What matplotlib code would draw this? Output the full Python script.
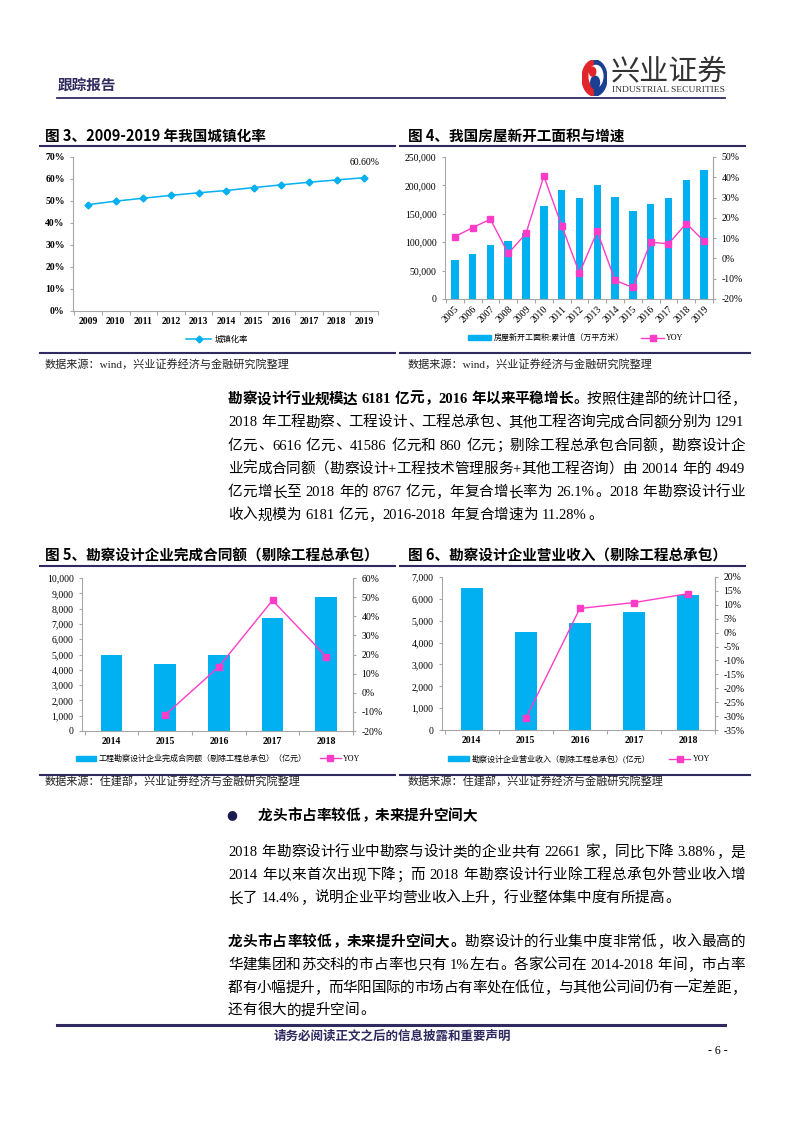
import numpy as np
import matplotlib
matplotlib.use('Agg')
import matplotlib.pyplot as plt
from matplotlib.lines import Line2D
from matplotlib.patches import Patch, Wedge, Ellipse, Circle
from matplotlib.ticker import FuncFormatter, FixedLocator
from matplotlib.font_manager import FontProperties

plt.rcParams['font.family'] = ['Liberation Serif', 'Noto Sans CJK SC', 'DejaVu Sans']

# Données des graphiques
annees_urb = ['2009', '2010', '2011', '2012', '2013', '2014', '2015', '2016', '2017', '2018', '2019']
taux_urb = [48.34, 49.95, 51.27, 52.57, 53.73, 54.77, 56.10, 57.35, 58.52, 59.58, 60.60]

annees_fw = ['2005', '2006', '2007', '2008', '2009', '2010', '2011', '2012', '2013', '2014',
             '2015', '2016', '2017', '2018', '2019']
surface_fw = [68064, 79253, 95402, 102553, 116422, 163647, 191237, 177334, 201208, 179592,
              154454, 166928, 178654, 209342, 227154]
yoy_fw = [10.7, 15.2, 19.3, 2.5, 12.3, 40.6, 16.2, -7.2, 13.3, -10.8, -14.3, 8.0, 7.2, 17.2, 8.5]

annees_kc = ['2014', '2015', '2016', '2017', '2018']
contrat_kc = [4949, 4376, 4975, 7374, 8767]
yoy_contrat = [np.nan, -11.6, 13.6, 48.3, 18.9]
revenu_kc = [6500, 4500, 4890, 5420, 6181]
yoy_revenu = [np.nan, -30.8, 8.7, 10.8, 14.0]

# Textes du corps
para1 = [
    [("勘察设计行业规模达 6181 亿元，2016 年以来平稳增长。", True), ("按照住建部的统计口径，", False)],
    [("2018 年工程勘察、工程设计、工程总承包、其他工程咨询完成合同额分别为 1291", False)],
    [("亿元、6616 亿元、41586 亿元和 860 亿元；剔除工程总承包合同额，勘察设计企", False)],
    [("业完成合同额（勘察设计+工程技术管理服务+其他工程咨询）由 20014 年的 4949", False)],
    [("亿元增长至 2018 年的 8767 亿元，年复合增长率为 26.1%。2018 年勘察设计行业", False)],
    [("收入规模为 6181 亿元，2016-2018 年复合增速为 11.28%。", False)],
]
para2 = [
    [("2018 年勘察设计行业中勘察与设计类的企业共有 22661 家，同比下降 3.88%，是", False)],
    [("2014 年以来首次出现下降；而 2018 年勘察设计行业除工程总承包外营业收入增", False)],
    [("长了 14.4%，说明企业平均营业收入上升，行业整体集中度有所提高。", False)],
]
para3 = [
    [("龙头市占率较低，未来提升空间大。", True), ("勘察设计的行业集中度非常低，收入最高的", False)],
    [("华建集团和苏交科的市占率也只有 1%左右。各家公司在 2014-2018 年间，市占率", False)],
    [("都有小幅提升，而华阳国际的市场占有率处在低位，与其他公司间仍有一定差距，", False)],
    [("还有很大的提升空间。", False)],
]

W, H = 793, 1122
BLEU = '#00B0F0'
ROSE = '#FF3CC8'
MARINE = '#2F2B61'
GRIS = '#A6A6A6'


def fx(x):
    return x / W


def fy(y):
    return 1 - y / H


fig = plt.figure(figsize=(W / 100, H / 100), dpi=100)
renderer = fig.canvas.get_renderer()

serif7 = FontProperties(family=['Liberation Serif'], size=7)


def hline(x0, x1, y, lw=1.5, color=MARINE):
    fig.add_artist(Line2D([fx(x0), fx(x1)], [fy(y), fy(y)], transform=fig.transFigure,
                          color=color, lw=lw))


def est_cjk(ch):
    return len(ch) == 1 and ord(ch) >= 0x2E80


def ligne(y, segments, x0=228, x1=745, justifier=True, size=10.5):
    em = size * 100 / 72
    jetons = []
    for texte, gras in segments:
        buf = ''
        for ch in texte:
            if ch == ' ' or est_cjk(ch):
                if buf:
                    jetons.append((buf, gras))
                    buf = ''
                jetons.append((ch, gras))
            else:
                buf += ch
        if buf:
            jetons.append((buf, gras))
    largeurs = []
    objets = []
    for tok, gras in jetons:
        if tok == ' ':
            largeurs.append(0.28 * em)
            objets.append(None)
        elif est_cjk(tok):
            largeurs.append(em)
            objets.append(None)
        else:
            t = fig.text(0, 0, tok, fontsize=size, fontweight='bold' if gras else 'normal',
                         family=['Liberation Serif', 'Noto Sans CJK SC'])
            largeurs.append(t.get_window_extent(renderer).width + 0.5)
            objets.append(t)
    naturel = sum(largeurs)
    extra = 0
    if justifier and len(jetons) > 1:
        extra = (x1 - x0 - naturel) / (len(jetons) - 1)
    base = y + 0.36 * em
    x = x0
    for (tok, gras), w, obj in zip(jetons, largeurs, objets):
        poids = 'bold' if gras else 'normal'
        if obj is not None:
            obj.set_position((fx(x), fy(base)))
            obj.set_va('baseline')
        elif tok != ' ':
            if tok in '，。、；：':
                fig.text(fx(x + 0.08 * em), fy(base), tok, fontsize=size, fontweight=poids,
                         family=['Noto Sans CJK SC'], ha='left', va='baseline')
            else:
                fig.text(fx(x + w / 2), fy(base), tok, fontsize=size, fontweight=poids,
                         family=['Noto Sans CJK SC'], ha='center', va='baseline')
        x += w + extra


# En-tête
fig.text(fx(58), fy(85), '跟踪报告', fontsize=10.5, fontweight='bold', color=MARINE,
         family=['Noto Sans CJK SC'], va='center')
hline(57, 725, 98, lw=1.3)
logo = fig.add_axes([fx(582), fy(96), fx(25), 36 / H])
logo.set_xlim(-1, 1)
logo.set_ylim(-1, 1)
logo.axis('off')
logo.add_patch(Wedge((0, 0), 1, 90, 270, color='#E0262B'))
logo.add_patch(Wedge((0, 0), 1, -90, 90, color='#1B3F93'))
logo.add_patch(Ellipse((0.12, 0.1), 1.1, 1.2, color='white'))
logo.add_patch(Circle((0.05, -0.25), 0.35, color='#1B3F93'))
logo.add_patch(Circle((-0.15, 0.35), 0.25, color='#E0262B'))
fig.text(fx(611), fy(71), '兴业证券', fontsize=21, color='#333333',
         family=['Noto Sans CJK SC'], va='center', ha='left')
fig.text(fx(612), fy(90), 'INDUSTRIAL SECURITIES', fontsize=6.8, color='#333333',
         family=['Liberation Serif'], va='center', ha='left')

# Titres des graphiques
titres = [(45, 136, '图 3、2009-2019 年我国城镇化率'), (408, 136, '图 4、我国房屋新开工面积与增速'),
          (45, 556, '图 5、勘察设计企业完成合同额（剔除工程总承包）'),
          (408, 556, '图 6、勘察设计企业营业收入（剔除工程总承包）')]
for x, y, t in titres:
    fig.text(fx(x), fy(y), t, fontsize=10.5, fontweight='bold', family=['Noto Sans CJK SC'],
             va='center')
hline(40, 395, 146)
hline(400, 745, 146)
hline(40, 395, 566)
hline(400, 745, 566)
hline(40, 395, 353)
hline(400, 750, 353)
hline(40, 395, 775)
hline(400, 750, 775)

for x, y, t in [(45, 364, '数据来源：wind，兴业证券经济与金融研究院整理'),
                (408, 364, '数据来源：wind，兴业证券经济与金融研究院整理'),
                (45, 782, '数据来源：住建部，兴业证券经济与金融研究院整理'),
                (408, 782, '数据来源：住建部，兴业证券经济与金融研究院整理')]:
    fig.text(fx(x), fy(y), t, fontsize=8, family=['Liberation Serif', 'Noto Sans CJK SC'],
             va='center', color='#222222')


def style_axe(ax, droite=False):
    for s in ['top', 'right']:
        ax.spines[s].set_visible(False)
    if droite:
        ax.spines['right'].set_visible(True)
    for s in ax.spines.values():
        s.set_color(GRIS)
        s.set_linewidth(0.8)
    ax.tick_params(axis='both', colors=GRIS, labelcolor='black', labelsize=7, length=2.5,
                   width=0.8)
    for lab in ax.get_xticklabels() + ax.get_yticklabels():
        lab.set_fontproperties(serif7)


def cat_axis(ax, n):
    ax.set_xlim(-0.55, n - 0.5)
    ax.xaxis.set_major_locator(FixedLocator(np.arange(-0.5, n, 1.0)))
    ax.xaxis.set_minor_locator(FixedLocator(np.arange(n)))
    ax.tick_params(axis='x', which='major', labelbottom=False, length=3, color=GRIS)
    ax.tick_params(axis='x', which='minor', length=0, labelsize=7, pad=4)


leg_prop = FontProperties(family=['Liberation Serif', 'Noto Sans CJK SC'], size=5.8)

# Graphique 3
ax3 = fig.add_axes([fx(73), fy(311), fx(378 - 73), (311 - 157) / H])
x3 = np.arange(len(annees_urb))
ax3.plot(x3, taux_urb, color=BLEU, marker='D', markersize=3.5, lw=1.1, label='城镇化率')
ax3.set_ylim(0, 70)
ax3.set_yticks(np.arange(0, 71, 10))
ax3.yaxis.set_major_formatter(FuncFormatter(lambda v, p: f'{int(v)}%'))
style_axe(ax3)
cat_axis(ax3, len(annees_urb))
ax3.set_xticklabels(annees_urb, minor=True, fontproperties=serif7, fontweight='bold')
for lab in ax3.get_yticklabels():
    lab.set_fontweight('bold')
ax3.annotate('60.60%', (x3[-1], taux_urb[-1]), xytext=(0, 9), textcoords='offset points',
             ha='center', fontsize=7, family=['Liberation Serif'])
fig.legend(handles=[Line2D([], [], color=BLEU, marker='D', markersize=3.5, lw=1.1)],
           labels=['城镇化率'], loc='center', bbox_to_anchor=(fx(217), fy(339)),
           frameon=False, prop=FontProperties(family=['Noto Sans CJK SC'], size=6),
           handlelength=3, handletextpad=0.4)

# Graphique 4
ax4 = fig.add_axes([fx(445), fy(299), fx(713 - 445), (299 - 157) / H])
x4 = np.arange(len(annees_fw))
ax4.bar(x4, surface_fw, width=0.42, color=BLEU)
ax4.set_ylim(0, 250000)
ax4.set_yticks(np.arange(0, 250001, 50000))
ax4.yaxis.set_major_formatter(FuncFormatter(lambda v, p: f'{int(v):,}'))
style_axe(ax4, droite=True)
cat_axis(ax4, len(annees_fw))
ax4.set_xticklabels(annees_fw, minor=True, rotation=45, ha='right', rotation_mode='anchor',
                    fontproperties=serif7)
ax4b = ax4.twinx()
ax4b.plot(x4, yoy_fw, color=ROSE, marker='s', markersize=4, lw=1)
ax4b.set_ylim(-20, 50)
ax4b.set_yticks(np.arange(-20, 51, 10))
ax4b.yaxis.set_major_formatter(FuncFormatter(lambda v, p: f'{int(round(v))}%'))
for s in ['top', 'left', 'bottom']:
    ax4b.spines[s].set_visible(False)
ax4b.spines['right'].set_color(GRIS)
ax4b.tick_params(axis='y', colors=GRIS, labelcolor='black', length=2.5)
for lab in ax4b.get_yticklabels():
    lab.set_fontproperties(serif7)
fig.legend(handles=[Patch(color=BLEU), Line2D([], [], color=ROSE, marker='s', markersize=4, lw=1)],
           labels=['房屋新开工面积:累计值（万平方米）', 'YOY'], loc='center',
           bbox_to_anchor=(fx(576), fy(338)), ncol=2, frameon=False, prop=leg_prop,
           handlelength=2.8, handleheight=0.6, handletextpad=0.3, columnspacing=2.2)


# Graphiques 5 et 6
def graph_kc(rect, valeurs, yoy, ymax, ystep, rmin, rmax, rstep, lab_barre, leg_x, espace):
    ax = fig.add_axes(rect)
    x = np.arange(len(annees_kc))
    ax.bar(x, valeurs, width=0.4, color=BLEU)
    ax.set_ylim(0, ymax)
    ax.set_yticks(np.arange(0, ymax + 1, ystep))
    ax.yaxis.set_major_formatter(FuncFormatter(lambda v, p: f'{int(v):,}'))
    style_axe(ax, droite=True)
    cat_axis(ax, len(annees_kc))
    ax.set_xticklabels(annees_kc, minor=True, fontproperties=serif7, fontweight='bold')
    axb = ax.twinx()
    axb.plot(x, yoy, color=ROSE, marker='s', markersize=4, lw=1)
    axb.set_ylim(rmin, rmax)
    axb.set_yticks(np.arange(rmin, rmax + 0.1, rstep))
    axb.yaxis.set_major_formatter(FuncFormatter(lambda v, p: f'{int(round(v))}%'))
    for s in ['top', 'left', 'bottom']:
        axb.spines[s].set_visible(False)
    axb.spines['right'].set_color(GRIS)
    axb.tick_params(axis='y', colors=GRIS, labelcolor='black', length=2.5)
    for lab in axb.get_yticklabels():
        lab.set_fontproperties(serif7)
    fig.legend(handles=[Patch(color=BLEU), Line2D([], [], color=ROSE, marker='s', markersize=4, lw=1)],
               labels=[lab_barre, 'YOY'], loc='center', bbox_to_anchor=(fx(leg_x), fy(759)),
               ncol=2, frameon=False, prop=leg_prop, handlelength=2.6, handleheight=0.6,
               handletextpad=0.3, columnspacing=espace)
    return ax


graph_kc([fx(82), fy(731), fx(353 - 82), (731 - 578) / H], contrat_kc, yoy_contrat,
         10000, 1000, -20, 60, 10, '工程勘察设计企业完成合同额（剔除工程总承包）（亿元）', 218, 1.6)
graph_kc([fx(442), fy(730), fx(715 - 442), (730 - 577) / H], revenu_kc, yoy_revenu,
         7000, 1000, -35, 20, 5, '勘察设计企业营业收入（剔除工程总承包）(亿元）', 579, 2.4)

# Corps du texte
y0 = 398
for i, seg in enumerate(para1):
    ligne(y0 + i * 23.2, seg, justifier=(i < len(para1) - 1))

fig.text(fx(232), fy(815), '●', fontsize=9, color='#1B1B4F', ha='center', va='center',
         family=['DejaVu Sans'])
ligne(815, [("龙头市占率较低，未来提升空间大", True)], x0=258, justifier=False)

for i, seg in enumerate(para2):
    ligne(851 + i * 23, seg, justifier=(i < len(para2) - 1))
for i, seg in enumerate(para3):
    ligne(941 + i * 22.7, seg, justifier=(i < len(para3) - 1))

# Pied de page
hline(57, 725, 1025, lw=2.2)
fig.text(fx(392), fy(1036), '请务必阅读正文之后的信息披露和重要声明', fontsize=9, fontweight='bold',
         color=MARINE, family=['Noto Sans CJK SC'], ha='center', va='center')
fig.text(fx(718), fy(1051), '- 6 -', fontsize=8.5, family=['Liberation Serif'], ha='center',
         va='center')

fig.savefig('out.png', dpi=100)
